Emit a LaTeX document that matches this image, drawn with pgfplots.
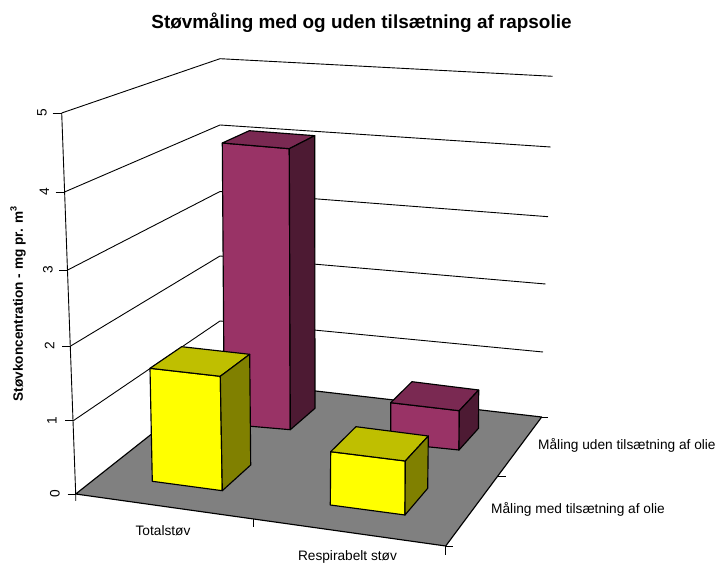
\documentclass[border=0pt]{standalone}
\usepackage{pgfplots}
\pgfplotsset{compat=1.18}
\usepackage{fontspec}
\setmainfont{Liberation Sans}
\definecolor{pf}{HTML}{993366}
\definecolor{pt}{HTML}{7A2952}
\definecolor{ps}{HTML}{4D1A33}
\definecolor{yf}{HTML}{FFFF00}
\definecolor{yt}{HTML}{BFBF00}
\definecolor{ys}{HTML}{808000}
\newcommand{\ticklab}[1]{\fontsize{13.7}{14}\selectfont #1}
\begin{document}
\begin{tikzpicture}
\begin{axis}[
  width=716pt,height=564pt,scale only axis,
  xmin=0,xmax=716,ymin=0,ymax=564,y dir=reverse,
  hide axis,clip=false,
  cycle list={{black,solid,mark=none}},
  every axis plot/.append style={line width=0.9pt,line join=round},
  box/.style={black,line width=1.15pt},
]
\path[use as bounding box] (axis cs:0,0) rectangle (axis cs:716,564);
% wall: vertical axis and ticks
\addplot coordinates {(61.7,113) (75.7,494) (75.7,501)};
\addplot coordinates {(52.7,113) (61.7,113)};
\addplot coordinates {(55.5,192) (64.5,192)};
\addplot coordinates {(59,270) (67.7,270)};
\addplot coordinates {(62,346) (70.7,346)};
\addplot coordinates {(65,420.7) (73.3,420.7)};
\addplot coordinates {(67.7,494) (75.7,494)};
% grid lines over the two walls
\addplot coordinates {(61.7,113) (220,58.7) (552.7,76.3)};
\addplot coordinates {(64.5,192) (220,125) (550.7,147)};
\addplot coordinates {(67.7,270) (220,191.5) (548,216.7)};
\addplot coordinates {(70.7,346) (220,256) (545.5,284)};
\addplot coordinates {(73.3,420.7) (220,321) (543,352)};
% floor
\addplot[box,fill={rgb,255:red,128;green,128;blue,128}] coordinates {(75.7,494) (220,380) (541.7,417) (445.7,546)} -- cycle;
\addplot coordinates {(541.7,417) (548,417)};
\addplot coordinates {(497,476) (505.5,476)};
\addplot coordinates {(445.7,546) (452.7,546)};
\addplot coordinates {(445.7,546) (445.7,555)};
\addplot coordinates {(253.5,519) (253.5,527)};
% purple bar, Totalstøv
\addplot[box,fill=pf] coordinates {(222.3,143) (289.3,148.7) (290.3,429.7) (224.3,424)} -- cycle;
\addplot[box,fill=pt] coordinates {(222.3,143) (249.3,130.7) (314.7,135.7) (289.3,148.7)} -- cycle;
\addplot[box,fill=ps] coordinates {(289.3,148.7) (314.7,135.7) (315,408.3) (290.3,429.7)} -- cycle;
% purple bar, Respirabelt støv
\addplot[box,fill=pf] coordinates {(390.7,402.7) (459.3,410.7) (459,450) (390.7,443)} -- cycle;
\addplot[box,fill=pt] coordinates {(390.7,402.7) (412,381.7) (478.7,390) (459.3,410.7)} -- cycle;
\addplot[box,fill=ps] coordinates {(459.3,410.7) (478.7,390) (478.5,428.3) (459,450)} -- cycle;
% yellow bar, Totalstøv
\addplot[box,fill=yf] coordinates {(150,368.3) (220.3,376.3) (222.3,490.7) (152.3,481.3)} -- cycle;
\addplot[box,fill=yt] coordinates {(150,368.3) (181.7,346.7) (249.7,354.3) (220.3,376.3)} -- cycle;
\addplot[box,fill=ys] coordinates {(220.3,376.3) (249.7,354.3) (250.7,465) (222.3,490.7)} -- cycle;
% yellow bar, Respirabelt støv
\addplot[box,fill=yf] coordinates {(330.7,451.7) (405.3,461) (405,515) (330.3,505)} -- cycle;
\addplot[box,fill=yt] coordinates {(330.7,451.7) (356,426.7) (428.3,436) (405.3,461)} -- cycle;
\addplot[box,fill=ys] coordinates {(405.3,461) (428.3,436) (427.7,488.3) (405,515)} -- cycle;
% text
\node[inner sep=0pt] at (axis cs:361.5,23) {\fontsize{18.9}{19}\selectfont\bfseries Støvmåling med og uden tilsætning af rapsolie};
\node[inner sep=0pt,rotate=90] at (axis cs:18,304) {\fontsize{13.6}{14}\selectfont\bfseries Støvkoncentration - mg pr. m\raisebox{0.45em}{\fontsize{9}{9}\selectfont 3}};
\node[inner sep=0pt,rotate=90] at (axis cs:42,113) {\ticklab{5}};
\node[inner sep=0pt,rotate=90] at (axis cs:44.5,192) {\ticklab{4}};
\node[inner sep=0pt,rotate=90] at (axis cs:48,270) {\ticklab{3}};
\node[inner sep=0pt,rotate=90] at (axis cs:49.5,346) {\ticklab{2}};
\node[inner sep=0pt,rotate=90] at (axis cs:52,420.7) {\ticklab{1}};
\node[inner sep=0pt,rotate=90] at (axis cs:55,494) {\ticklab{0}};
\node[inner sep=0pt] at (axis cs:163,531) {\ticklab{Totalstøv}};
\node[inner sep=0pt] at (axis cs:347.5,557) {\ticklab{Respirabelt støv}};
\node[inner sep=0pt,anchor=west] at (axis cs:538,445.5) {\ticklab{Måling uden tilsætning af olie}};
\node[inner sep=0pt,anchor=west] at (axis cs:491,509.5) {\ticklab{Måling med tilsætning af olie}};
\end{axis}
\end{tikzpicture}
\end{document}
